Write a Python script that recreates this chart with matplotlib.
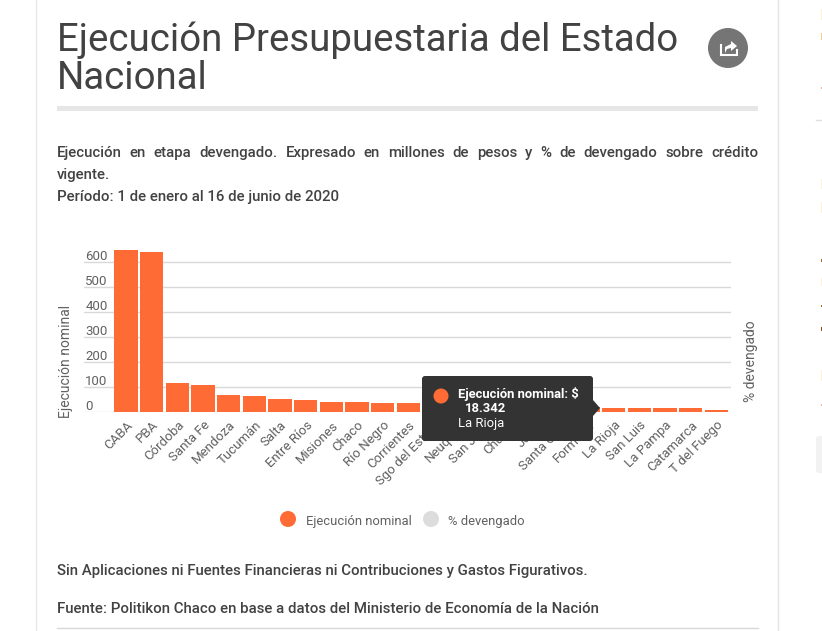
import matplotlib
matplotlib.use("Agg")
import matplotlib.pyplot as plt
from matplotlib.patches import Circle, FancyBboxPatch, Polygon, Rectangle
from matplotlib.transforms import ScaledTranslation

plt.rcParams['font.family'] = ['Roboto', 'DejaVu Sans']

categories = ['CABA', 'PBA', 'Córdoba', 'Santa Fe', 'Mendoza', 'Tucumán', 'Salta',
              'Entre Ríos', 'Misiones', 'Chaco', 'Río Negro', 'Corrientes',
              'Sgo del Estero', 'Neuquén', 'San Juan', 'Chubut', 'Jujuy',
              'Santa Cruz', 'Formosa', 'La Rioja', 'San Luis', 'La Pampa',
              'Catamarca', 'T del Fuego']
nominal = [649, 641, 117, 109, 69, 65, 53, 49, 41, 41, 37, 37,
           35, 33, 31, 29, 27, 25, 21, 18.342, 19, 17, 17, 9]
yticks = [0, 100, 200, 300, 400, 500, 600]

ORANGE = '#ff6b35'
TEXT = '#424242'
W, H = 822, 631

fig = plt.figure(figsize=(W / 100, H / 100), dpi=100)


def px_axes(zorder):
    a = fig.add_axes([0, 0, 1, 1], zorder=zorder)
    a.set_xlim(0, W)
    a.set_ylim(H, 0)
    a.axis('off')
    a.patch.set_alpha(0)
    return a


# page around the chart
page = px_axes(0)
page.plot([36, 36], [0, H], color='#e8e8e8', lw=1)
page.plot([778, 778], [0, H], color='#e4e4e4', lw=1)
page.plot([816, W], [119.5, 119.5], color='#e0e0e0', lw=1)
page.add_patch(Rectangle((57, 106), 701, 5, color='#e6e6e6', lw=0))
page.plot([57, 758], [628, 628], color='#d8d8d8', lw=1)

# cut off pieces of the next column
page.add_patch(FancyBboxPatch((818, 438), 10, 33, boxstyle='round,pad=2,rounding_size=3', color='#f2f2f2', lw=0))
for y0, y1, c in [(9, 20, '#fdf0d0'), (33, 40, '#f5c98a'), (87, 89, '#e8b0a0'), (179, 189, '#fdf4d8'),
                  (202, 213, '#fdf0d0'), (259, 262, '#a06a20'), (278, 286, '#fdf0d0'), (305, 307, '#a06a20'),
                  (327, 331, '#905010'), (370, 381, '#fdf0d0'), (404, 406, '#e8b0a0')]:
    page.add_patch(Rectangle((820.5, y0), 1.5, y1 - y0, color=c, lw=0))

page.text(57, 40.5, 'Ejecución Presupuestaria del Estado', fontsize=27.6, color=TEXT, va='center')
page.text(57, 78.5, 'Nacional', fontsize=27.6, color=TEXT, va='center')

# share button
page.add_patch(Circle((728, 48), 20, color='#757575', lw=0))
page.plot([721, 721, 737, 737], [45, 55, 55, 50], color='white', lw=1.5, solid_joinstyle='miter')
page.add_patch(Polygon([[731, 41], [737, 46], [731, 51], [731, 48], [727, 49], [725, 53], [725, 47], [731, 44]],
                       color='white', lw=0))


def justified(text, x0, x1, y):
    words = text.split()
    r = fig.canvas.get_renderer()
    items = [page.text(x0, y, w, fontsize=10.8, color=TEXT, weight='medium', va='center') for w in words]
    widths = [t.get_window_extent(r).width for t in items]
    gap = (x1 - x0 - sum(widths)) / (len(words) - 1)
    x = x0
    for t, w in zip(items, widths):
        t.set_x(x)
        x += w + gap


justified('Ejecución en etapa devengado. Expresado en millones de pesos y % de devengado sobre crédito',
          57, 758, 153)
page.text(57, 175, 'vigente.', fontsize=10.8, color=TEXT, weight='medium', va='center')
page.text(57, 197, 'Período: 1 de enero al 16 de junio de 2020', fontsize=10.8, color=TEXT, weight='medium', va='center')
page.text(57, 571, 'Sin Aplicaciones ni Fuentes Financieras ni Contribuciones y Gastos Figurativos.',
          fontsize=10.8, color=TEXT, weight='medium', va='center')
page.text(57, 609, 'Fuente: Politikon Chaco en base a datos del Ministerio de Economía de la Nación',
          fontsize=10.8, color=TEXT, weight='medium', va='center')

# chart
left, right, top, bottom = 84, 731, 249, 412.3
ax = fig.add_axes([left / W, 1 - bottom / H, (right - left) / W, (bottom - top) / H], zorder=1)
ax.patch.set_alpha(0)
step = 25.67
ax.set_xlim(-(126 - left) / step, (right - 126) / step)
ax.set_ylim(0, (bottom - top) / 0.25)
ax.bar(range(len(categories)), nominal, width=0.91, color=ORANGE, zorder=2)
ax.set_yticks(yticks)
ax.set_yticklabels([str(v) for v in yticks])
ax.grid(axis='y', color='#d9d9d9', lw=1, zorder=1)
for s in ax.spines.values():
    s.set_visible(False)
ax.tick_params(axis='y', length=0, pad=-1, labelsize=9.5, labelcolor='#616161')
for lbl in ax.get_yticklabels():
    lbl.set_ha('left')
    lbl.set_va('bottom')
    lbl.set_transform(lbl.get_transform() + ScaledTranslation(0, -1 / 100, fig.dpi_scale_trans))
ax.set_xticks(range(len(categories)))
ax.set_xticklabels(categories, rotation=45, ha='right', rotation_mode='anchor', fontsize=9.5, color='#616161')
ax.tick_params(axis='x', length=0, pad=4.5)

page.text(66, 361, 'Ejecución nominal', fontsize=10, color='#616161', rotation=90, ha='center', va='center')
page.text(751, 361, '% devengado', fontsize=10, color='#616161', rotation=90, ha='center', va='center')

# legend
page.add_patch(Circle((288, 519), 8, color=ORANGE, lw=0))
page.text(306, 521, 'Ejecución nominal', fontsize=9.4, color='#616161', va='center')
page.add_patch(Circle((431, 519), 8, color='#dcdcdc', lw=0))
page.text(448, 521, '% devengado', fontsize=9.4, color='#616161', va='center')

# tooltip for La Rioja
tip = px_axes(5)
tip.add_patch(FancyBboxPatch((424, 378), 167, 61, boxstyle='round,pad=2,rounding_size=3', color='#333333', lw=0))
tip.add_patch(Polygon([[593, 400], [600, 408], [593, 416]], color='#333333', lw=0))
tip.add_patch(Circle((441, 396), 7.5, color=ORANGE, lw=0))
tip.text(458, 394, 'Ejecución nominal: $', fontsize=9.4, color='white', weight='bold', va='center')
tip.text(465, 409, '18.342', fontsize=9.4, color='white', weight='bold', va='center')
tip.text(458, 424, 'La Rioja', fontsize=9.4, color='white', va='center')

fig.savefig('out.png', dpi=100)
